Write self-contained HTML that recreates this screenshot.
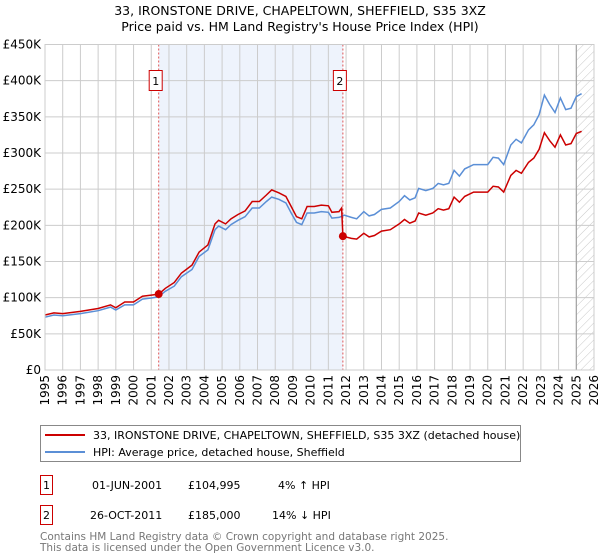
<!DOCTYPE html>
<html><head><meta charset="utf-8"><style>
body{margin:0;background:#fff;font-family:"Liberation Sans","DejaVu Sans",sans-serif;}
svg{display:block}
</style></head><body>
<svg width="600" height="560" xmlns="http://www.w3.org/2000/svg" font-family="DejaVu Sans, Liberation Sans, sans-serif">
<defs><pattern id="hatch" width="6" height="6" patternUnits="userSpaceOnUse" patternTransform="rotate(45)"><line x1="0" y1="0" x2="0" y2="6" stroke="#bbb" stroke-width="0.8"/></pattern></defs>
<text x="300" y="15" text-anchor="middle" font-size="12.5">33, IRONSTONE DRIVE, CHAPELTOWN, SHEFFIELD, S35 3XZ</text>
<text x="300" y="31" text-anchor="middle" font-size="12.5">Price paid vs. HM Land Registry's House Price Index (HPI)</text>
<g id="plot"></g>
<g>
<rect x="40.5" y="425.5" width="480" height="36" fill="#fff" stroke="#888"/>
<line x1="45" y1="435" x2="85" y2="435" stroke="#cc0000" stroke-width="2"/>
<text x="93" y="439" font-size="11">33, IRONSTONE DRIVE, CHAPELTOWN, SHEFFIELD, S35 3XZ (detached house)</text>
<line x1="45" y1="452" x2="85" y2="452" stroke="#5b8fd6" stroke-width="2"/>
<text x="93" y="456" font-size="11">HPI: Average price, detached house, Sheffield</text>
</g>
<g font-size="11">
<rect x="40.5" y="475.5" width="12" height="19" fill="#fff" stroke="#cc0000"/>
<text x="46.5" y="489" text-anchor="middle">1</text>
<text x="92" y="489">01-JUN-2001</text><text x="188" y="489">£104,995</text><text x="278" y="489">4% ↑ HPI</text>
<rect x="40.5" y="505.5" width="12" height="19" fill="#fff" stroke="#cc0000"/>
<text x="46.5" y="519" text-anchor="middle">2</text>
<text x="90" y="519">26-OCT-2011</text><text x="188" y="519">£185,000</text><text x="272" y="519">14% ↓ HPI</text>
</g>
<g font-size="10.5" fill="#777">
<text x="40" y="540">Contains HM Land Registry data © Crown copyright and database right 2025.</text>
<text x="40" y="551">This data is licensed under the Open Government Licence v3.0.</text>
</g>
</svg>
<script>
const hpiYears=[1995.0,1995.5,1996,1997,1998,1998.7,1999,1999.5,2000,2000.5,2001,2001.4,2001.8,2002.3,2002.7,2003.3,2003.7,2004.2,2004.6,2004.8,2005.2,2005.5,2005.9,2006.3,2006.7,2007.1,2007.5,2007.8,2008.2,2008.6,2008.9,2009.2,2009.5,2009.8,2010.2,2010.6,2011.0,2011.2,2011.6,2011.9,2012.3,2012.6,2013.0,2013.3,2013.6,2014.0,2014.5,2015.0,2015.3,2015.6,2015.9,2016.1,2016.5,2016.9,2017.2,2017.5,2017.8,2018.1,2018.4,2018.7,2019.2,2019.6,2020.0,2020.3,2020.6,2020.9,2021.3,2021.6,2021.9,2022.3,2022.6,2022.9,2023.2,2023.5,2023.8,2024.1,2024.4,2024.7,2025.0,2025.3];
const hpiValues=[73,76,75,78,82,87,83,90,90,98,99.5,101,109,116,129,139,157,166,194,199,194,201,207,212,224,224,233,239,236,231,217,204,201,217,217,219,218,210,211,214,211,209,219,213,215,222,224,233,241,235,238,251,248,251,258,256,258,276,268,278,284,284,284,294,293,284,311,319,314,332,339,353,380,367,356,376,360,362,378,382];
const priceYears=[1995.0,1995.5,1996,1997,1998,1998.7,1999,1999.5,2000,2000.5,2001,2001.42,2001.8,2002.3,2002.7,2003.3,2003.7,2004.2,2004.6,2004.8,2005.2,2005.5,2005.9,2006.3,2006.7,2007.1,2007.5,2007.8,2008.2,2008.6,2008.9,2009.2,2009.5,2009.8,2010.2,2010.6,2011.0,2011.2,2011.6,2011.75,2011.82,2012.3,2012.6,2013.0,2013.3,2013.6,2014.0,2014.5,2015.0,2015.3,2015.6,2015.9,2016.1,2016.5,2016.9,2017.2,2017.5,2017.8,2018.1,2018.4,2018.7,2019.2,2019.6,2020.0,2020.3,2020.6,2020.9,2021.3,2021.6,2021.9,2022.3,2022.6,2022.9,2023.2,2023.5,2023.8,2024.1,2024.4,2024.7,2025.0,2025.3];
const priceValues=[76,79,78,81,85,90,86,94,94,102,103.5,105,113,121,134,145,163,173,202,207,202,209,215,220,233,233,242,249,245,240,226,212,209,226,226,228,227,218,219,224,185,182,181,189,184,186,192,194,202,208,203,206,217,214,217,223,221,223,239,232,240,246,246,246,254,253,246,269,276,272,287,293,305,328,317,308,325,311,313,327,330];
const sales=[{n:'1',year:2001.42,value:104.995},{n:'2',year:2011.82,value:185}];
const yTicks=[0,50,100,150,200,250,300,350,400,450];
const xTicks=[];for(let y=1995;y<=2026;y++)xTicks.push(y);

const L=45,R=594,T=44.5,B=370;
const X=y=>L+(y-1995)/(2026-1995)*(R-L);
const Y=v=>B-v/450*(B-T);
const NS='http://www.w3.org/2000/svg';
const g=document.getElementById('plot');
function mk(tag,attrs,parent){const e=document.createElementNS(NS,tag);for(const k in attrs)e.setAttribute(k,attrs[k]);(parent||g).appendChild(e);return e;}
let sh=mk('rect',{x:X(sales[0].year),y:T,width:X(sales[1].year)-X(sales[0].year),height:B-T,fill:'#eef3fc'});


let hz=mk('rect',{x:X(2025),y:T,width:R-X(2025),height:B-T,fill:'url(#hatch)'});


yTicks.forEach(v=>{
 let l=mk('line',{x1:L,x2:R,y1:Y(v),y2:Y(v),stroke:'#ccc','stroke-width':1});
 
 
 let t=mk('text',{x:L-4,y:Y(v)+4,'text-anchor':'end','font-size':12});
 t.textContent='£'+(v===0?'0':v+'K');
 
 
});
xTicks.forEach(yr=>{
 let l=mk('line',{x1:X(yr),x2:X(yr),y1:T,y2:B,stroke:'#ccc','stroke-width':1});
 
 
 let t=mk('text',{transform:`translate(${X(yr)+4},${B+5}) rotate(-90)`,'text-anchor':'end','font-size':12});
 t.textContent=yr;
 
 
});
let ed=mk('line',{x1:X(2025),x2:X(2025),y1:T,y2:B,stroke:'#999','stroke-width':1});


sales.forEach(s=>{
 let l=mk('line',{x1:X(s.year),x2:X(s.year),y1:T,y2:B,stroke:'#e05555','stroke-width':1,'stroke-dasharray':'2,2'});
 
 
 let bx=mk('rect',{x:X(s.year)-9.5,y:70.5,width:13,height:20,fill:'#fff',stroke:'#cc0000'});
 
 
 let t=mk('text',{x:X(s.year)-3,y:85,'text-anchor':'middle','font-size':11});
 t.textContent=s.n;
 
 
});
function path(xs,vs){return xs.map((y,i)=>(i?'L':'M')+X(y).toFixed(1)+','+Y(vs[i]).toFixed(1)).join('');}
let hp=mk('path',{d:path(hpiYears,hpiValues),fill:'none',stroke:'#5b8fd6','stroke-width':1.5});


let pp=mk('path',{d:path(priceYears,priceValues),fill:'none',stroke:'#cc0000','stroke-width':1.5});


sales.forEach(s=>{
 let c=mk('circle',{cx:X(s.year),cy:Y(s.value),r:4,fill:'#cc0000'});
 
 
});
let ax=mk('rect',{x:L,y:T,width:R-L,height:B-T,fill:'none',stroke:'#ccc'});


</script>
</body></html>
